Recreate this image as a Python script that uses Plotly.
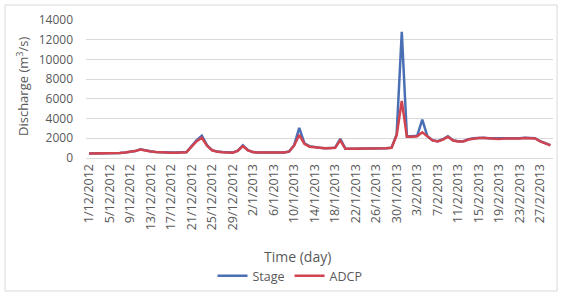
import pandas as pd
import plotly.graph_objects as go

# ---- data ----
dates = [d.strftime("%-d/%-m/%Y") for d in pd.date_range("2012-12-01", "2013-03-01", freq="D")]

stage = [450, 450, 450, 450, 460, 480, 500, 550, 600, 700,
         880, 750, 680, 620, 580, 560, 550, 550, 560,
         600, 1200, 1800, 2250,
         1300, 800, 650, 600, 550, 550,
         750, 1300, 800, 600,
         570, 560, 560, 560, 560, 570, 650,
         1300, 3050,
         1500, 1200, 1100, 1050, 1000, 1000, 1050,
         1950, 950,
         950, 950, 950, 950, 980, 980, 1000, 1000,
         1050, 2400, 12800,
         2200, 2200, 2250,
         3900,
         2200, 1800, 1700, 1900, 2200, 1800, 1700, 1700, 1900,
         2000, 2050, 2050, 2000, 2000, 1950, 2000, 2000, 1950, 2000, 2050, 2050, 2000,
         1700, 1500, 1300]

adcp = [450, 450, 450, 450, 460, 480, 500, 550, 600, 700,
        860, 740, 670, 610, 570, 550, 540, 540, 550,
        590, 1150, 1700, 2050,
        1250, 780, 640, 590, 540, 540,
        730, 1200, 780, 590,
        560, 550, 550, 550, 550, 560, 640,
        1250, 2350,
        1450, 1150, 1080, 1030, 990, 990, 1030,
        1800, 930,
        940, 940, 940, 940, 970, 970, 990, 990,
        1030, 2300, 5800,
        2150, 2150, 2200,
        2600,
        2150, 1780, 1680, 1860, 2150, 1780, 1680, 1680, 1880,
        1980, 2020, 2020, 1980, 1980, 1930, 1980, 1980, 1930, 1980, 2020, 2020, 1980,
        1680, 1480, 1280]

tick_labels = dates[::4]
y_ticks = [0, 2000, 4000, 6000, 8000, 10000, 12000, 14000]

FONT = "Open Sans"
GREY = "#595959"

L, R, T, B = 86, 8, 20, 135
W, H = 561, 293
PW, PH = W - L - R, H - T - B


def px_x(x):
    return (x - L) / PW


def px_y(y):
    return (H - B - y) / PH


fig = go.Figure()
fig.add_trace(go.Scatter(x=dates, y=stage, mode="lines", name="Stage",
                         line=dict(color="#4A6FB5", width=2.5)))
fig.add_trace(go.Scatter(x=dates, y=adcp, mode="lines", name="ADCP",
                         line=dict(color="#D0434F", width=2.5)))

fig.update_layout(
    width=W, height=H,
    margin=dict(l=L, r=R, t=T, b=B, autoexpand=False),
    paper_bgcolor="white", plot_bgcolor="white",
    font=dict(family=FONT, color=GREY, size=11),
    showlegend=True,
    legend=dict(orientation="h", x=px_x(290), xanchor="center", y=px_y(276), yanchor="middle",
                font=dict(size=12.5, color=GREY), bgcolor="rgba(0,0,0,0)",
                itemwidth=30, tracegroupgap=0),
    shapes=[dict(type="rect", xref="paper", yref="paper",
                 x0=px_x(5), x1=px_x(557), y0=px_y(291), y1=px_y(5),
                 line=dict(color="#D9D9D9", width=1), layer="below")],
    annotations=[
        dict(text="Time (day)", xref="paper", yref="paper", x=px_x(297), y=px_y(256),
             xanchor="center", yanchor="middle", showarrow=False,
             font=dict(size=14, color=GREY)),
        dict(text="Discharge (m<sup>3</sup>/s)", xref="paper", yref="paper", x=px_x(22), y=px_y(87),
             xanchor="center", yanchor="middle", showarrow=False, textangle=-90,
             font=dict(size=13, color=GREY)),
    ],
)

fig.update_xaxes(
    type="category", categoryorder="array", categoryarray=dates,
    tickmode="array", tickvals=tick_labels, ticktext=tick_labels,
    tickangle=-90, tickfont=dict(size=12.5, color=GREY),
    range=[-0.6, 90.5],
    showgrid=False, showline=True, linecolor="#D9D9D9", linewidth=1,
    ticks="", zeroline=False, automargin=False,
)
fig.update_yaxes(
    range=[0, 14000], tickmode="array", tickvals=y_ticks,
    ticktext=[str(v) for v in y_ticks],
    tickfont=dict(size=12, color=GREY),
    showgrid=True, gridcolor="#D9D9D9", gridwidth=1,
    zeroline=False, showline=False, ticks="",
    ticklabelstandoff=12, automargin=False,
)

fig.write_html("out.html", config={"displayModeBar": False},
               post_script="document.body.style.margin='0';")
